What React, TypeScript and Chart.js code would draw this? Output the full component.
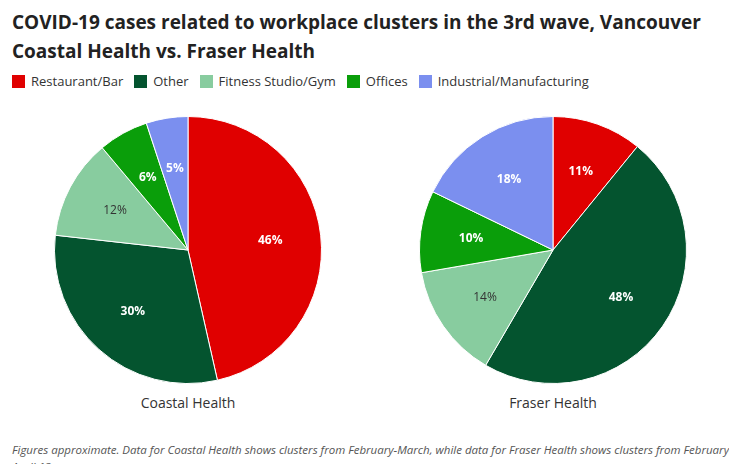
import React, { useEffect, useRef } from "react";
import { Chart, registerables } from "chart.js";
Chart.register(...registerables);

const categories = ["Restaurant/Bar", "Other", "Fitness Studio/Gym", "Offices", "Industrial/Manufacturing"];
const colors = ["#e00000", "#04542f", "#88cc9f", "#0a9e0a", "#7b8fef"];
const labelColors = ["#fff", "#fff", "#333", "#fff", "#fff"];
const coastal = [46, 30, 12, 6, 5];
const fraser = [11, 48, 14, 10, 18];

const labelPlugin = {
  id: "pctLabels",
  afterDatasetsDraw(chart: any) {
    const ctx = chart.ctx;
    const meta = chart.getDatasetMeta(0);
    const data = chart.data.datasets[0].data;
    ctx.save();
    ctx.font = "bold 12px 'Open Sans'";
    ctx.textAlign = "center";
    ctx.textBaseline = "middle";
    meta.data.forEach((arc: any, i: number) => {
      const a = (arc.startAngle + arc.endAngle) / 2;
      const r = arc.outerRadius * 0.62;
      ctx.fillStyle = labelColors[i];
      if (i === 2) ctx.font = "12px 'Open Sans'";
      else ctx.font = "bold 12px 'Open Sans'";
      ctx.fillText(data[i] + "%", arc.x + Math.cos(a) * r, arc.y + Math.sin(a) * r);
    });
    ctx.restore();
  },
};

function Pie({ values }: { values: number[] }) {
  const ref = useRef<HTMLCanvasElement>(null);
  useEffect(() => {
    const c = new Chart(ref.current!, {
      type: "pie",
      data: { labels: categories, datasets: [{ data: values, backgroundColor: colors, borderColor: "#fff", borderWidth: 1 }] },
      options: {
        animation: false,
        responsive: false,
        plugins: { legend: { display: false }, tooltip: { enabled: false } },
      },
      plugins: [labelPlugin],
    });
    return () => c.destroy();
  }, []);
  return <canvas ref={ref} width={268} height={268} />;
}

export default function App() {
  const font = "'Open Sans', sans-serif";
  return (
    <div style={{ position: "relative", width: 721, height: 456, fontFamily: font, color: "#333" }}>
      <div style={{ position: "absolute", left: 4, top: 0, fontSize: 19, fontWeight: 700, lineHeight: "29px", color: "#222" }}>
        COVID-19 cases related to workplace clusters in the 3rd wave, Vancouver
        <br />Coastal Health vs. Fraser Health
      </div>
      <div style={{ position: "absolute", left: 4, top: 64, display: "flex", fontSize: 13, alignItems: "center" }}>
        {categories.map((c, i) => (
          <div key={c} style={{ display: "flex", alignItems: "center", marginRight: 11 }}>
            <span style={{ width: 13, height: 13, background: colors[i], display: "inline-block", marginRight: 6 }} />
            {c}
          </div>
        ))}
      </div>
      <div style={{ position: "absolute", left: 46, top: 108 }}><Pie values={coastal} /></div>
      <div style={{ position: "absolute", left: 411, top: 108 }}><Pie values={fraser} /></div>
      <div style={{ position: "absolute", left: 80, width: 200, textAlign: "center", top: 385, fontSize: 14 }}>Coastal Health</div>
      <div style={{ position: "absolute", left: 445, width: 200, textAlign: "center", top: 385, fontSize: 14 }}>Fraser Health</div>
      <div style={{ position: "absolute", left: 4, top: 433, width: 725, fontSize: 11.5, fontStyle: "italic", color: "#555", lineHeight: "17px" }}>
        Figures approximate. Data for Coastal Health shows clusters from February-March, while data for Fraser Health shows clusters from February-April 12.
      </div>
    </div>
  );
}
